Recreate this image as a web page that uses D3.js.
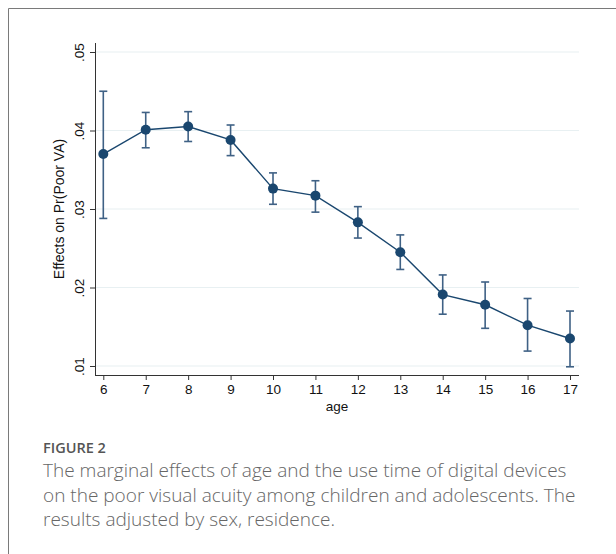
<!DOCTYPE html>
<html>
<head>
<meta charset="utf-8">
<script src="https://cdn.jsdelivr.net/npm/d3@7"></script>
<style>
  body { margin: 0; background: #fff; }
  svg { display: block; }
  .tick text { font-family: "Liberation Sans", Arial, sans-serif; }
</style>
</head>
<body>
<svg id="chart"></svg>
<script>
// age categories and marginal effects with 95% CI
const ages = [6, 7, 8, 9, 10, 11, 12, 13, 14, 15, 16, 17];
const effect = [0.0370, 0.0401, 0.0405, 0.0388, 0.0326, 0.0317, 0.0283, 0.0245, 0.0191, 0.0178, 0.0152, 0.0135];
const ciUpper = [0.0450, 0.0423, 0.0424, 0.0407, 0.0346, 0.0336, 0.0303, 0.0267, 0.0216, 0.0207, 0.0186, 0.0170];
const ciLower = [0.0288, 0.0378, 0.0386, 0.0368, 0.0306, 0.0296, 0.0263, 0.0223, 0.0166, 0.0148, 0.0119, 0.0099];
const yTicks = [0.01, 0.02, 0.03, 0.04, 0.05];
const yTickLabels = [".01", ".02", ".03", ".04", ".05"];

const width = 616, height = 554;
const svg = d3.select("#chart").attr("width", width).attr("height", height);

// outer figure frame (top + left border)
svg.append("path")
    .attr("d", "M8.5,554V8.5H616")
    .attr("fill", "none")
    .attr("stroke", "#7a7a7a")
    .attr("stroke-width", 1);

const data = ages.map(function(a, i) {
    return { age: a, v: effect[i], hi: ciUpper[i], lo: ciLower[i] };
});

const x = d3.scaleLinear().domain([6, 17]).range([103.3, 570]);
const y = d3.scaleLinear().domain([0.01, 0.05]).range([366, 52]);

const axisLeftX = 95, axisBottomY = 375, plotRight = 579;

const g = svg.append("g");

// gridlines
g.selectAll(".grid")
    .data(yTicks)
    .enter()
    .append("line")
    .attr("x1", axisLeftX)
    .attr("x2", plotRight)
    .attr("y1", function(d) { return y(d); })
    .attr("y2", function(d) { return y(d); })
    .attr("stroke", "#e8f0f2")
    .attr("stroke-width", 1.2);

// y axis
const yAxis = d3.axisLeft(y)
    .tickValues(yTicks)
    .tickFormat(function(d, i) { return yTickLabels[i]; })
    .tickSize(5)
    .tickSizeOuter(0);
const yg = g.append("g")
    .attr("transform", "translate(" + axisLeftX + ",0)")
    .call(yAxis);
yg.select(".domain").attr("d", "M0.5,43V" + axisBottomY).attr("stroke", "#333");
yg.selectAll(".tick line").attr("stroke", "#333");
yg.selectAll(".tick text")
    .attr("transform", "rotate(-90)")
    .attr("x", 0)
    .attr("y", -11)
    .attr("dy", 0)
    .style("text-anchor", "middle")
    .style("font-size", "13.5px")
    .attr("fill", "#111");

// x axis
const xAxis = d3.axisBottom(x)
    .tickValues(ages)
    .tickFormat(d3.format("d"))
    .tickSize(5)
    .tickSizeOuter(0);
const xg = g.append("g")
    .attr("transform", "translate(0," + axisBottomY + ")")
    .call(xAxis);
xg.select(".domain").attr("d", "M" + axisLeftX + ",0.5H" + plotRight).attr("stroke", "#333");
xg.selectAll(".tick line").attr("stroke", "#333");
xg.selectAll(".tick text")
    .attr("y", 9)
    .style("font-size", "13.5px")
    .attr("fill", "#111");

// axis titles
svg.append("text")
    .attr("transform", "translate(64,209) rotate(-90)")
    .style("text-anchor", "middle")
    .style("font-family", "Liberation Sans, Arial, sans-serif")
    .style("font-size", "14px")
    .attr("fill", "#111")
    .text("Effects on Pr(Poor VA)");

svg.append("text")
    .attr("x", 337)
    .attr("y", 411)
    .style("text-anchor", "middle")
    .style("font-family", "Liberation Sans, Arial, sans-serif")
    .style("font-size", "13.5px")
    .attr("fill", "#111")
    .text("age");

// error bars
const bars = g.selectAll(".ci")
    .data(data)
    .enter()
    .append("g")
    .attr("class", "ci")
    .attr("stroke", "#3f6185")
    .attr("stroke-width", 1.6);
bars.append("line")
    .attr("x1", function(d) { return x(d.age); })
    .attr("x2", function(d) { return x(d.age); })
    .attr("y1", function(d) { return y(d.hi); })
    .attr("y2", function(d) { return y(d.lo); });
bars.append("line")
    .attr("x1", function(d) { return x(d.age) - 4; })
    .attr("x2", function(d) { return x(d.age) + 4; })
    .attr("y1", function(d) { return y(d.hi); })
    .attr("y2", function(d) { return y(d.hi); });
bars.append("line")
    .attr("x1", function(d) { return x(d.age) - 4; })
    .attr("x2", function(d) { return x(d.age) + 4; })
    .attr("y1", function(d) { return y(d.lo); })
    .attr("y2", function(d) { return y(d.lo); });

// connecting line
const line = d3.line()
    .x(function(d) { return x(d.age); })
    .y(function(d) { return y(d.v); });
g.append("path")
    .datum(data)
    .attr("d", line)
    .attr("fill", "none")
    .attr("stroke", "#1a476f")
    .attr("stroke-width", 1.4);

// markers
g.selectAll(".dot")
    .data(data)
    .enter()
    .append("circle")
    .attr("class", "dot")
    .attr("cx", function(d) { return x(d.age); })
    .attr("cy", function(d) { return y(d.v); })
    .attr("r", 5)
    .attr("fill", "#1a476f");

// caption
const cap = svg.append("g")
    .style("font-family", "'Open Sans', Lato, sans-serif")
    .attr("fill", "#666");
const figLabel = cap.append("text")
    .attr("x", 43)
    .attr("y", 453)
    .style("font-size", "12px")
    .style("font-weight", "600")
    .attr("fill", "#555")
    .text("FIGURE 2");
// size the label so it spans the same width as in the figure
figLabel.style("font-size", (12 * 63 / figLabel.node().getComputedTextLength()) + "px");

const captionLines = [
    "The marginal effects of age and the use time of digital devices",
    "on the poor visual acuity among children and adolescents. The",
    "results adjusted by sex, residence."
];
const capText = cap.selectAll(".capline")
    .data(captionLines)
    .enter()
    .append("text")
    .attr("class", "capline")
    .attr("x", 43)
    .attr("y", function(d, i) { return 477 + i * 24.5; })
    .style("font-size", "17px")
    .style("font-weight", "300")
    .text(function(d) { return d; });
const firstLen = capText.node().getComputedTextLength();
capText.style("font-size", (17 * 524 / firstLen) + "px");
</script>
</body>
</html>
